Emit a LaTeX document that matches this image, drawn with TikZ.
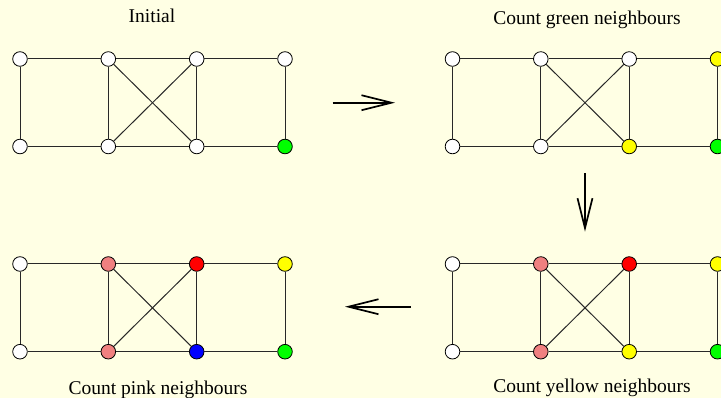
\documentclass[tikz,border=0pt]{standalone}
\usepackage{fontspec}
\setmainfont{Liberation Serif}
\usetikzlibrary{arrows.meta}
\definecolor{bgyellow}{RGB}{255,255,228}
\definecolor{pinkc}{RGB}{240,128,128}
\definecolor{greenc}{RGB}{0,255,0}
\definecolor{yellowc}{RGB}{255,255,0}
\definecolor{edgec}{RGB}{40,40,40}
\tikzset{
  vtx/.style={circle,draw=black,line width=0.8pt,inner sep=0pt,minimum size=14.6pt},
  edg/.style={draw=edgec,line width=1pt},
  title/.style={font=\fontsize{19.5}{22}\selectfont,anchor=base,inner sep=0pt},
  bigarrow/.style={line width=1.7pt,-{Straight Barb[length=30pt,width=15pt,line width=1.7pt]}}
}
\begin{document}
\begin{tikzpicture}[x=1pt,y=-1pt]
\fill[bgyellow] (0,0) rectangle (721,398);
\clip (0,0) rectangle (721,398);
% titles
\node[title] (tA) at (152,23) {Initial};
\node[title] (tB) at (587,24.5) {Count green neighbours};
\node[title] (tC) at (592,392.5) {Count yellow neighbours};
\node[title] (tD) at (158,395) {Count pink neighbours};
% nodes
\foreach \n/\x/\y/\c in {
  A-t1/20/59/white, A-t2/108.3/59/white, A-t3/196.7/59/white, A-t4/285/59/white,
  A-b1/20/146.5/white, A-b2/108.3/146.5/white, A-b3/196.7/146.5/white, A-b4/285/146.5/greenc,
  B-t1/452.5/59/white, B-t2/540.8/59/white, B-t3/629.2/59/white, B-t4/717.5/59/yellowc,
  B-b1/452.5/146.5/white, B-b2/540.8/146.5/white, B-b3/629.2/146.5/yellowc, B-b4/717.5/146.5/greenc,
  C-t1/452.5/264/white, C-t2/540.8/264/pinkc, C-t3/629.2/264/red, C-t4/717.5/264/yellowc,
  C-b1/452.5/351.7/white, C-b2/540.8/351.7/pinkc, C-b3/629.2/351.7/yellowc, C-b4/717.5/351.7/greenc,
  D-t1/20/264/white, D-t2/108.3/264/pinkc, D-t3/196.7/264/red, D-t4/285/264/yellowc,
  D-b1/20/351.7/white, D-b2/108.3/351.7/pinkc, D-b3/196.7/351.7/blue, D-b4/285/351.7/greenc}
  {\node[vtx,fill=\c] (\n) at (\x,\y) {};}
% edges
\foreach \g in {A,B,C,D}{
  \path[edg] (\g-t1) -- (\g-t2) -- (\g-t3) -- (\g-t4);
  \path[edg] (\g-b1) -- (\g-b2) -- (\g-b3) -- (\g-b4);
  \path[edg] (\g-t1) -- (\g-b1);
  \path[edg] (\g-t2) -- (\g-b2);
  \path[edg] (\g-t3) -- (\g-b3);
  \path[edg] (\g-t4) -- (\g-b4);
  \path[edg] (\g-t2) -- (\g-b3);
  \path[edg] (\g-t3) -- (\g-b2);
}
% arrows between stages
\coordinate (r1) at (332.7,102.7);
\coordinate (r2) at (395,102.7);
\coordinate (d1) at (585,173.3);
\coordinate (d2) at (585,231.7);
\coordinate (l1) at (410.7,306.7);
\coordinate (l2) at (345,306.7);
\draw[bigarrow] (r1) -- (r2);
\draw[bigarrow] (d1) -- (d2);
\draw[bigarrow] (l1) -- (l2);
\end{tikzpicture}
\end{document}
